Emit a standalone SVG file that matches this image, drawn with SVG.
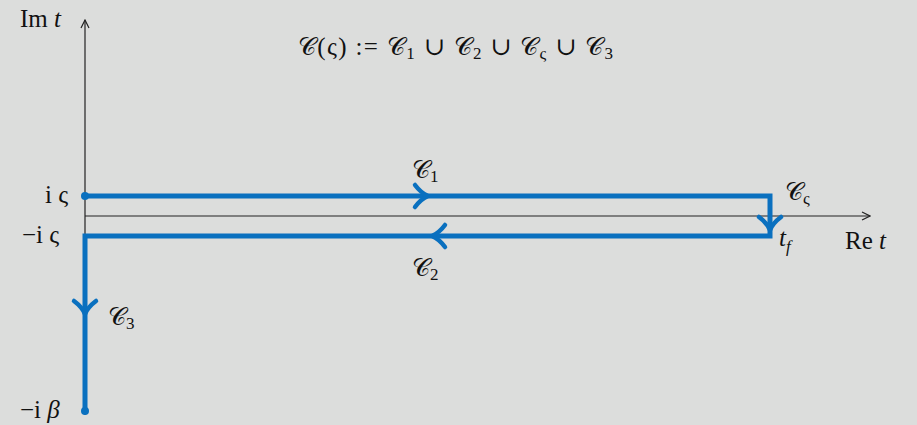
<svg xmlns="http://www.w3.org/2000/svg" width="917" height="425" viewBox="0 0 917 425">
<style>
text{font-family:"Liberation Serif","DejaVu Serif",serif;font-size:25px;fill:#111}
.it{font-style:italic}
.sub{font-size:17px}
.ax{stroke:#222;stroke-width:1.2;fill:none}
.c{stroke:#0a70bf;stroke-width:5;fill:none}
.chev{stroke:#0a70bf;stroke-width:4.5;fill:none;stroke-linecap:round;stroke-linejoin:round}
</style>
<defs>
<marker id="ah" viewBox="0 0 10 10" refX="9" refY="5" markerWidth="10" markerHeight="10" markerUnits="userSpaceOnUse" orient="auto">
<path d="M1,1 L9,5 L1,9" fill="none" stroke="#222" stroke-width="1.2"/>
</marker>
</defs>
<rect width="917" height="425" fill="#dcdddc"/>
<g id="axes">
<line class="ax" x1="85" y1="415" x2="85" y2="20" marker-end="url(#ah)"/>
<line class="ax" x1="85" y1="216" x2="870" y2="216" marker-end="url(#ah)"/>
</g>
<g id="connectors">
<path class="c" d="M85,196 H770 V236 H85 V411"/>
<circle cx="85" cy="196" r="4" fill="#0a70bf"/>
<circle cx="85" cy="411" r="4" fill="#0a70bf"/>
<path class="chev" d="M415,185 Q421,193 428,196 Q421,199 415,207"/>
<path class="chev" d="M445,225 Q439,233 432,236 Q439,239 445,247"/>
<path class="chev" d="M759,217 Q767,223 770,230 Q773,223 781,217"/>
<path class="chev" d="M74,301 Q82,307 85,314 Q88,307 96,301"/>
</g>
<g id="labels">
<text x="20" y="27">Im <tspan class="it">t</tspan></text>
<text x="298" y="55" textLength="315">𝒞(ς) := 𝒞<tspan class="sub" dy="4">1</tspan><tspan dy="-4"> ∪ 𝒞</tspan><tspan class="sub" dy="4">2</tspan><tspan dy="-4"> ∪ 𝒞</tspan><tspan class="sub" dy="4">ς</tspan><tspan dy="-4"> ∪ 𝒞</tspan><tspan class="sub" dy="4">3</tspan></text>
<text x="45" y="203">i ς</text>
<text x="22" y="243">−i ς</text>
<text x="20" y="418">−i <tspan class="it">β</tspan></text>
<text x="412" y="178">𝒞<tspan class="sub" dy="4">1</tspan></text>
<text x="412" y="276">𝒞<tspan class="sub" dy="4">2</tspan></text>
<text x="785" y="200">𝒞<tspan class="sub" dy="4">ς</tspan></text>
<text x="108" y="325">𝒞<tspan class="sub" dy="4">3</tspan></text>
<text class="it" x="779" y="246">t<tspan class="sub" dy="6">f</tspan></text>
<text x="845" y="249">Re <tspan class="it">t</tspan></text>
</g>
</svg>
